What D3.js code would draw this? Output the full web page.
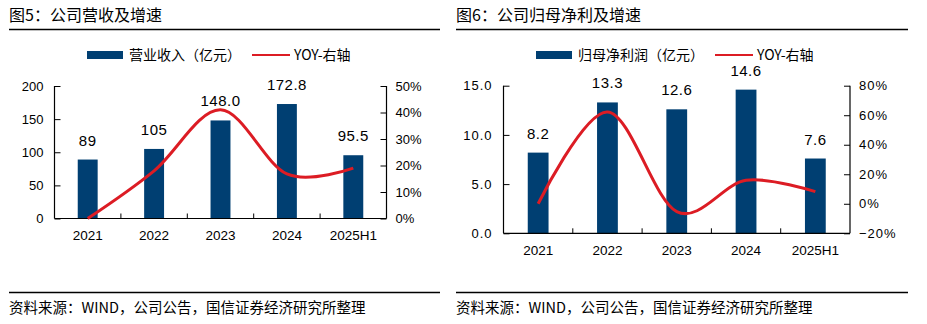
<!DOCTYPE html>
<html>
<head>
<meta charset="utf-8">
<script src="https://cdn.jsdelivr.net/npm/d3@7"></script>
<style>
  body { margin: 0; background: #fff; }
  svg { display: block; }
  text { fill: #000; }
  .cjk { font-family: "Noto Sans CJK SC", sans-serif; }
  .num { font-family: "Liberation Sans", Arial, sans-serif; }
</style>
</head>
<body>
<svg id="chart" width="927" height="324"></svg>
<script>
// Categories and series
const years = ['2021', '2022', '2023', '2024', '2025H1'];

const revenue = [89, 105, 148.0, 172.8, 95.5];
const revenueLabels = ['89', '105', '148.0', '172.8', '95.5'];
const revenueYoy = [0, 18.0, 41.0, 16.8, 19.0];
const revenueTicks = [0, 50, 100, 150, 200];
const revenueYoyTicks = [0, 10, 20, 30, 40, 50];

const profit = [8.2, 13.3, 12.6, 14.6, 7.6];
const profitLabels = ['8.2', '13.3', '12.6', '14.6', '7.6'];
const profitYoy = [0, 62.2, -5.3, 15.9, 8.2];
const profitTicks = [0, 5, 10, 15];
const profitYoyTicks = [-20, 0, 20, 40, 60, 80];

const barColor = '#003f72';
const lineColor = '#dc1c24';
const source = '资料来源：WIND，公司公告，国信证券经济研究所整理';

const svg = d3.select('#chart');

function drawPanel(opt) {
  const g = svg.append('g');

  // title and rules
  g.append('text')
    .attr('class', 'cjk')
    .attr('x', opt.left)
    .attr('y', 21)
    .style('font-size', '16px')
    .text(opt.title);

  g.append('line')
    .attr('x1', opt.left).attr('x2', opt.right)
    .attr('y1', 29.5).attr('y2', 29.5)
    .attr('stroke', '#000').attr('stroke-width', 1.5);

  g.append('line')
    .attr('x1', opt.left).attr('x2', opt.right)
    .attr('y1', 292.5).attr('y2', 292.5)
    .attr('stroke', '#000').attr('stroke-width', 1.5);

  g.append('text')
    .attr('class', 'cjk')
    .attr('x', opt.left)
    .attr('y', 313)
    .style('font-size', '14.5px')
    .text(source);

  // scales
  const x = d3.scaleBand()
    .domain(years)
    .range([opt.plot.x0, opt.plot.x1]);
  const y = d3.scaleLinear()
    .domain(opt.yDomain)
    .range([opt.plot.y1, opt.plot.y0]);
  const y2 = d3.scaleLinear()
    .domain(opt.y2Domain)
    .range([opt.plot.y1, opt.plot.y0]);

  const barW = x.bandwidth() * 0.3;

  // bars
  g.selectAll('.bar')
    .data(opt.values)
    .enter().append('rect')
    .attr('class', 'bar')
    .attr('x', (d, i) => x(years[i]) + x.bandwidth() / 2 - barW / 2)
    .attr('y', d => y(d))
    .attr('width', barW)
    .attr('height', d => y(opt.yDomain[0]) - y(d))
    .attr('fill', barColor);

  // value labels
  g.selectAll('.vlabel')
    .data(opt.values)
    .enter().append('text')
    .attr('class', 'num')
    .attr('x', (d, i) => x(years[i]) + x.bandwidth() / 2)
    .attr('y', d => y(d) - 14)
    .attr('text-anchor', 'middle')
    .style('font-size', '15px')
    .style('letter-spacing', '0.5px')
    .text((d, i) => opt.labels[i]);

  // left axis
  const axL = g.append('g')
    .attr('transform', `translate(${opt.plot.x0},0)`)
    .call(d3.axisLeft(y)
      .tickValues(opt.yTicks)
      .tickSize(-6)
      .tickPadding(11)
      .tickFormat(opt.yFormat));

  // right axis
  const axR = g.append('g')
    .attr('transform', `translate(${opt.plot.x1},0)`)
    .call(d3.axisRight(y2)
      .tickValues(opt.y2Ticks)
      .tickSize(-6)
      .tickPadding(9)
      .tickFormat(d => (d < 0 ? '\u2212' + Math.abs(d) : d) + '%'));

  // bottom axis with ticks between categories
  const axB = g.append('g')
    .attr('transform', `translate(0,${opt.plot.y1})`)
    .call(d3.axisBottom(x).tickSize(0).tickPadding(12));

  years.slice(1).forEach(yr => {
    g.append('line')
      .attr('x1', x(yr)).attr('x2', x(yr))
      .attr('y1', opt.plot.y1).attr('y2', opt.plot.y1 - 5)
      .attr('stroke', '#000');
  });

  [axL, axR, axB].forEach(a => {
    a.select('.domain').attr('stroke', '#000').attr('stroke-width', 1.2);
    a.selectAll('.tick line').attr('stroke', '#000');
    a.selectAll('.tick text')
      .attr('class', 'num')
      .style('font-size', '13px')
      .style('letter-spacing', opt.tickSpacing || '0px');
  });
  axR.select('.domain').attr('d', `M0,${opt.plot.y0}V${opt.plot.y1}`);
  axL.select('.domain').attr('d', `M0,${opt.plot.y0}V${opt.plot.y1}`);
  axB.select('.domain').attr('d', `M${opt.plot.x0},0H${opt.plot.x1}`);
  axB.selectAll('.tick text').style('font-size', '13.5px').style('letter-spacing', '0px');

  // YoY line
  const line = d3.line()
    .x((d, i) => x(years[i]) + x.bandwidth() / 2)
    .y(d => y2(d))
    .curve(d3.curveCardinal.tension(0));

  g.append('path')
    .datum(opt.yoy)
    .attr('d', line)
    .attr('fill', 'none')
    .attr('stroke', lineColor)
    .attr('stroke-width', 3);

  // legend
  const lg = g.append('g').attr('transform', `translate(${opt.legendX},55)`);
  lg.append('rect')
    .attr('x', 0).attr('y', -4)
    .attr('width', 36).attr('height', 8)
    .attr('fill', barColor);
  lg.append('text')
    .attr('class', 'cjk')
    .attr('x', 42).attr('y', 5)
    .style('font-size', '14px')
    .text(opt.seriesName);
  lg.append('line')
    .attr('x1', opt.legendLineX).attr('x2', opt.legendLineX + 38)
    .attr('y1', 0).attr('y2', 0)
    .attr('stroke', lineColor).attr('stroke-width', 2);
  lg.append('text')
    .attr('class', 'cjk')
    .attr('x', opt.legendLineX + 42).attr('y', 5)
    .style('font-size', '14px')
    .text('YOY-右轴');
}

drawPanel({
  title: '图5：公司营收及增速',
  left: 9, right: 440,
  plot: { x0: 54.5, x1: 386.5, y0: 86, y1: 218.5 },
  values: revenue, labels: revenueLabels, yoy: revenueYoy,
  yDomain: [0, 200], yTicks: revenueTicks, yFormat: d3.format('d'),
  y2Domain: [0, 50], y2Ticks: revenueYoyTicks,
  seriesName: '营业收入（亿元）',
  legendX: 87, legendLineX: 165
});

drawPanel({
  title: '图6：公司归母净利及增速',
  left: 456, right: 908,
  plot: { x0: 503.5, x1: 850, y0: 85.7, y1: 233.3 },
  values: profit, labels: profitLabels, yoy: profitYoy,
  yDomain: [0, 15], yTicks: profitTicks, yFormat: d3.format('.1f'),
  y2Domain: [-20, 80], y2Ticks: profitYoyTicks,
  tickSpacing: '1px',
  seriesName: '归母净利润（亿元）',
  legendX: 536, legendLineX: 179
});
</script>
</body>
</html>
